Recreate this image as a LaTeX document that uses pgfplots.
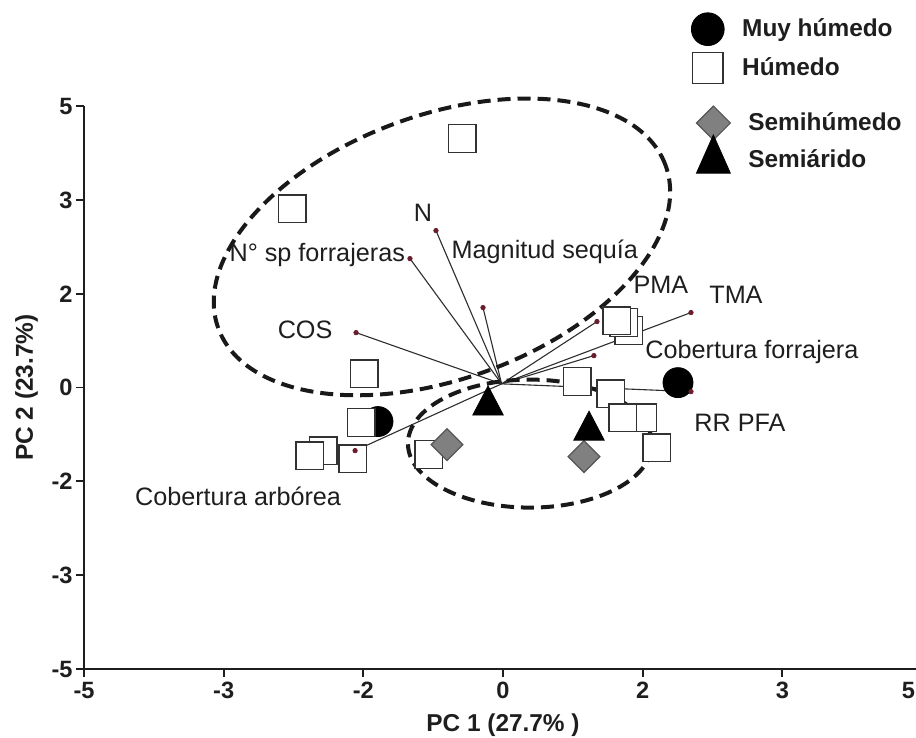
\documentclass[border=0pt]{standalone}
\usepackage{fontspec}
\setmainfont{Liberation Sans}
\usepackage{pgfplots}
\pgfplotsset{compat=1.18}
\definecolor{axc}{RGB}{30,30,30}
\definecolor{txtc}{RGB}{30,30,30}
\definecolor{vecc}{RGB}{45,45,45}
\definecolor{dotc}{RGB}{105,30,45}
\definecolor{dgray}{RGB}{128,128,128}
\definecolor{dedge}{RGB}{85,85,85}
\definecolor{sqedge}{RGB}{50,50,50}
\begin{document}
\begin{tikzpicture}
\begin{axis}[
  name=ax,
  scale only axis,
  width=419pt, height=281.4pt,
  xmin=-3, xmax=3, ymin=-3, ymax=3,
  axis lines*=left,
  axis line style={line width=1pt, color=axc},
  xtick={-3,-2,-1,0,1,2,3},
  xticklabels={-5,-3,-2,0,2,3,\makebox[0pt][r]{5\hspace{3.5pt}}},
  ytick={-3,-2,-1,0,1,2,3},
  yticklabels={-5,-3,-2,0,2,3,5},
  tick align=outside,
  major tick length=4pt,
  tick style={line width=0.9pt, color=axc},
  tick label style={font=\fontsize{11.8}{14}\selectfont\bfseries, color=axc},
  xticklabel style={inner sep=2.5pt},
  yticklabel style={inner sep=1.5pt},
  xlabel={PC 1 (27.7\% )},
  ylabel={PC 2 (23.7\%)},
  label style={font=\fontsize{12.2}{14}\selectfont\bfseries, color=axc},
  xlabel style={at={(axis description cs:0.5,-0.1)}, anchor=center},
  ylabel style={at={(axis description cs:-0.0685,0.5)}, anchor=center},
  clip=false,
  legend cell align=left,
  legend style={at={(axis cs:1.346,4.0)}, anchor=north west, draw=none, fill=none,
    inner sep=0pt, row sep=3.5pt, column sep=7pt,
    font=\fontsize{12.2}{14}\selectfont\bfseries, text=txtc},
]
% Muy humedo
\addplot[only marks, mark=*, mark size=7.5pt, mark options={fill=black, draw=black}, forget plot]
  coordinates {(1.253,0.053) (-0.895,-0.362)};
% Humedo
\addplot[only marks, mark=square*, mark size=6.9pt, mark options={fill=white, draw=sqedge, line width=0.7pt}, forget plot]
  coordinates {(-0.293,2.655) (-1.510,1.908) (-0.995,0.149) (-1.016,-0.373)
   (-1.288,-0.672) (-1.382,-0.725) (-1.074,-0.757) (-0.530,-0.714)
   (0.530,0.064) (0.773,-0.064) (1.002,-0.320) (0.859,-0.320) (1.102,-0.640)
   (0.902,0.608) (0.866,0.693) (0.816,0.714)};
% loading vectors
\addplot[vecc, line width=0.55pt, forget plot] coordinates {(-0.01,0.04) (-0.480,1.674)};
\addplot[vecc, line width=0.55pt, forget plot] coordinates {(-0.01,0.04) (-0.666,1.375)};
\addplot[vecc, line width=0.55pt, forget plot] coordinates {(-0.01,0.04) (-0.143,0.853)};
\addplot[vecc, line width=0.55pt, forget plot] coordinates {(-0.01,0.04) (-1.052,0.586)};
\addplot[vecc, line width=0.55pt, forget plot] coordinates {(-0.01,0.04) (0.673,0.704)};
\addplot[vecc, line width=0.55pt, forget plot] coordinates {(-0.01,0.04) (1.346,0.800)};
\addplot[vecc, line width=0.55pt, forget plot] coordinates {(-0.01,0.04) (0.651,0.341)};
\addplot[vecc, line width=0.55pt, forget plot] coordinates {(-0.01,0.04) (1.346,-0.043)};
\addplot[vecc, line width=0.55pt, forget plot] coordinates {(-0.01,0.04) (-1.059,-0.672)};
\addplot[only marks, mark=*, mark size=1.1pt, color=dotc, forget plot]
  coordinates {(-0.480,1.674) (-0.666,1.375) (-0.143,0.853) (-1.052,0.586) (0.673,0.704)
   (1.346,0.800) (0.651,0.341) (1.346,-0.043) (-1.059,-0.672)};
% Semihumedo
\addplot[only marks, mark=square*, mark size=5.6pt, mark options={rotate=45, fill=dgray, draw=dedge, line width=0.6pt}, forget plot]
  coordinates {(-0.401,-0.608) (0.580,-0.736)};
% Semiarido
\addplot[only marks, mark=triangle*, mark size=8.8pt, mark options={yscale=1.1, fill=black, draw=black}, forget plot]
  coordinates {(-0.107,-0.189) (0.616,-0.458)};
% ellipses
\draw[line width=2pt, color=black!90, dash pattern=on 6.5pt off 3.5pt, rotate around={20:(axis cs:-0.437,1.50)}]
  (axis cs:-0.437,1.50) ellipse [x radius=119pt, y radius=66pt];
\draw[line width=2pt, color=black!90, dash pattern=on 6.5pt off 3.5pt]
  (axis cs:0.193,-0.597) ellipse [x radius=61pt, y radius=32pt];
% labels
\begin{scope}[every node/.style={font=\fontsize{12.6}{15}\selectfont, text=txtc}]
\node at (axis cs:-0.573,1.866) {N};
\node at (axis cs:-1.33,1.41) {N° sp forrajeras};
\node at (axis cs:0.30,1.45) {Magnitud sequía};
\node at (axis cs:-1.417,0.618) {COS};
\node at (axis cs:1.131,1.098) {PMA};
\node at (axis cs:1.668,0.991) {TMA};
\node at (axis cs:1.782,0.384) {Cobertura forrajera};
\node at (axis cs:1.697,-0.373) {RR PFA};
\node at (axis cs:-1.897,-1.162) {Cobertura arbórea};
\end{scope}
\coordinate (O) at (rel axis cs:0,0);
\addlegendimage{only marks, mark=*, mark size=8.2pt, mark options={fill=black, draw=black}}
\addlegendentry{Muy húmedo}
\addlegendimage{only marks, mark=square*, mark size=7.7pt, mark options={fill=white, draw=sqedge, line width=0.7pt}}
\addlegendentry{Húmedo}
\end{axis}
\begin{axis}[
  scale only axis,
  width=419pt, height=281.4pt,
  xmin=-3, xmax=3, ymin=-3, ymax=3,
  hide axis,
  legend cell align=left,
  legend style={at={(axis cs:1.382,3.006)}, anchor=north west, draw=none, fill=none,
    inner sep=0pt, row sep=-2.5pt, column sep=7pt,
    font=\fontsize{12.2}{14}\selectfont\bfseries, text=txtc},
]
\addlegendimage{only marks, mark=square*, mark size=6pt, mark options={rotate=45, fill=dgray, draw=dedge, line width=0.6pt}}
\addlegendentry{Semihúmedo}
\addlegendimage{only marks, mark=triangle*, mark size=9.8pt, mark options={yscale=1.3, fill=black, draw=black}}
\addlegendentry{Semiárido}
\end{axis}
\pgfresetboundingbox
\path ([shift={(-42pt,-34.5pt)}]O) rectangle ([shift={(416pt,334.5pt)}]O);
\end{tikzpicture}
\end{document}
